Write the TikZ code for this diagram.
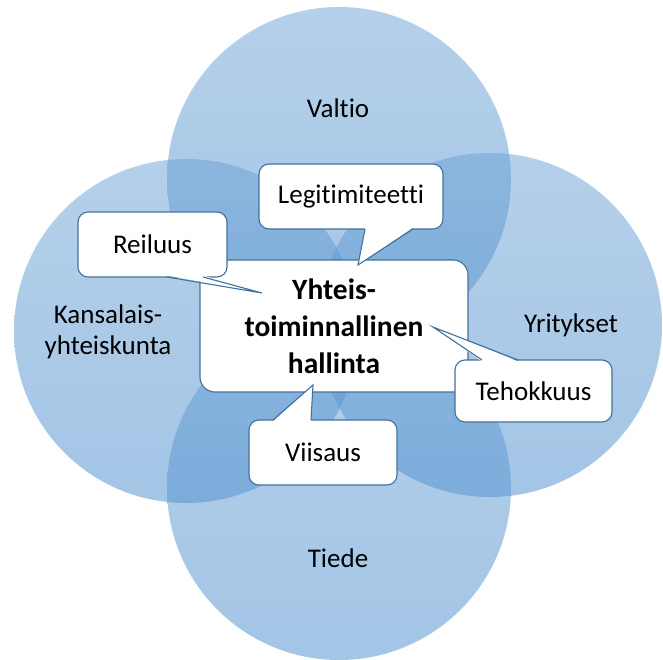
\documentclass[tikz,border=0pt]{standalone}
\usepackage{fontspec}
\setmainfont{Carlito}[Ligatures={NoCommon,NoRare,NoContextual}]
\usetikzlibrary{calc}
\definecolor{ctop}{RGB}{107,161,213}
\definecolor{cbot}{RGB}{71,139,205}
\definecolor{cline}{RGB}{65,113,156}
\tikzset{
  circ/.style={top color=ctop, bottom color=cbot, fill opacity=0.5, draw=none},
  clabel/.style={font=\fontsize{27}{31}\selectfont, align=center, text=black},
  cbox/.style={draw=cline, line width=1.1pt, fill=white, rounded corners=10pt, outer sep=0pt, inner sep=0pt,
    font=\fontsize{27}{31}\selectfont},
  mainbox/.style={draw=cline, line width=1.1pt, fill=white, rounded corners=15pt, outer sep=0pt, inner sep=0pt,
    align=center, font=\bfseries\fontsize{29.5}{37}\selectfont},
  wedgefill/.style={fill=white, draw=none},
  wedgeline/.style={draw=cline, line width=1.1pt, line join=miter},
}
\begin{document}
\begin{tikzpicture}[x=1pt,y=-1pt]
\useasboundingbox (0,0) rectangle (663,660);
% circles
\path[circ] (339,179) circle[radius=172];
\path[circ] (186,331) circle[radius=172];
\path[circ] (490,325) circle[radius=172];
\path[circ] (339,488) circle[radius=172];
% circle labels
\node[clabel] (valtio) at (338,108) {Valtio};
\node[clabel] (kansa) at (108,332) {Kansalais-\\yhteiskunta};
\node[clabel] (yrit) at (571,325) {Yritykset};
\node[clabel] (tiede) at (338,558) {Tiede};
% central box
\node[mainbox, minimum width=268pt, minimum height=132pt] (main) at (334,326) {Yhteis-\\toiminnallinen\\hallinta};
% Legitimiteetti
\node[cbox, minimum width=184pt, minimum height=65pt] (legit) at (351,196.5) {Legitimiteetti};
\coordinate (legittip) at (358,265);
\path[wedgefill] ([xshift=106pt,yshift=1.5pt]legit.south west) -- (legittip) -- ([xshift=154pt,yshift=1.5pt]legit.south west) -- cycle;
\draw[wedgeline] ([xshift=106pt]legit.south west) -- (legittip) -- ([xshift=154pt]legit.south west);
% Reiluus
\node[cbox, minimum width=149pt, minimum height=65pt] (reil) at (152.5,244.5) {Reiluus};
\coordinate (reiltip) at (262,293);
\path[wedgefill] ([xshift=89pt,yshift=1.5pt]reil.south west) -- (reiltip) -- ([xshift=125pt,yshift=1.5pt]reil.south west) -- cycle;
\draw[wedgeline] ([xshift=89pt]reil.south west) -- (reiltip) -- ([xshift=125pt]reil.south west);
% Tehokkuus
\node[cbox, minimum width=157pt, minimum height=62pt] (teho) at (533.5,391) {Tehokkuus};
\coordinate (tehotip) at (433,327);
\path[wedgefill] ([xshift=27pt,yshift=-1.5pt]teho.north west) -- (tehotip) -- ([xshift=63pt,yshift=-1.5pt]teho.north west) -- cycle;
\draw[wedgeline] ([xshift=27pt]teho.north west) -- (tehotip) -- ([xshift=63pt]teho.north west);
% Viisaus
\node[cbox, minimum width=148pt, minimum height=65pt] (viis) at (323,452.5) {Viisaus};
\coordinate (viistip) at (313,385);
\path[wedgefill] ([xshift=24pt,yshift=-1.5pt]viis.north west) -- (viistip) -- ([xshift=62pt,yshift=-1.5pt]viis.north west) -- cycle;
\draw[wedgeline] ([xshift=24pt]viis.north west) -- (viistip) -- ([xshift=62pt]viis.north west);
\end{tikzpicture}
\end{document}
